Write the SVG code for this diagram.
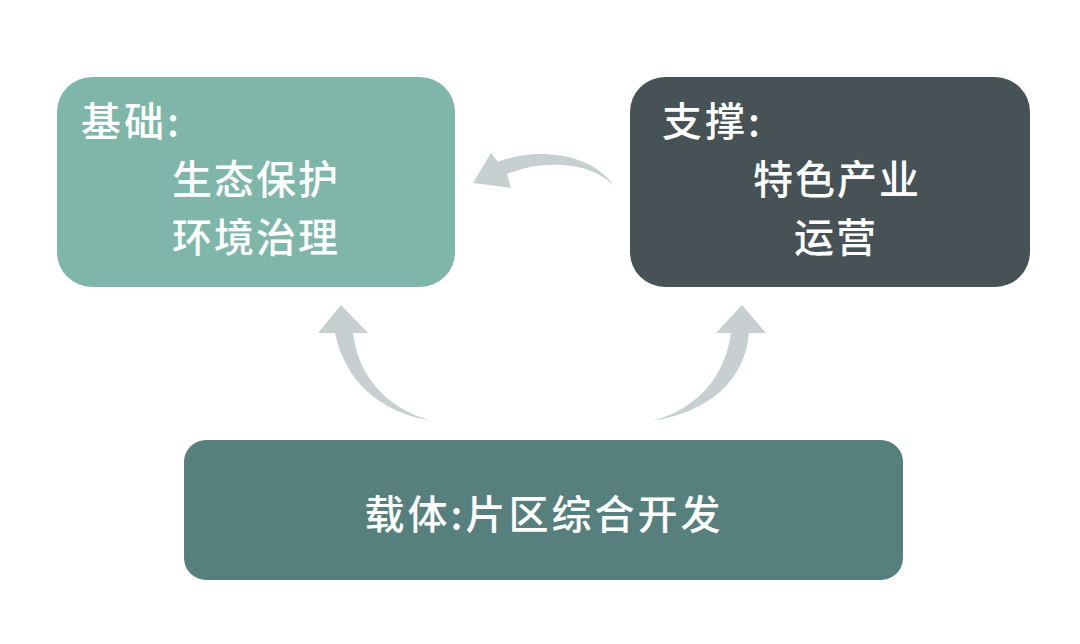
<svg xmlns="http://www.w3.org/2000/svg" width="1080" height="644" viewBox="0 0 1080 644">
<style>
.t{font-family:"Noto Sans CJK SC","Noto Sans",sans-serif;fill:#ffffff;font-size:40px;font-weight:500}
.arr{fill:#C8CFD1}
</style>
<rect width="1080" height="644" fill="#ffffff"/>
<g id="connectors">
<path class="arr" d="M473 183 L491 153 L498 162 C530 148 590 150 614 186 C590 160 540 160 507 174 L511 188 Z"/>
<path class="arr" d="M341 305 L368 333 L353 333 C358 375 385 408 432 421 C378 412 345 380 335 333 L318 333 Z"/>
<path class="arr" d="M742 305 L766 333 L749 333 C745 380 710 412 652 421 C700 408 725 375 731 333 L716 333 Z"/>
</g>
<g id="base">
<rect x="57" y="77" width="398" height="210" rx="35" fill="#80B6AA"/>
<text class="t" x="81" y="136" letter-spacing="3">基础:</text>
<text class="t" x="256" y="194" text-anchor="middle" letter-spacing="2">生态保护</text>
<text class="t" x="256" y="252" text-anchor="middle" letter-spacing="2">环境治理</text>
</g>
<g id="support">
<rect x="630" y="77" width="400" height="210" rx="35" fill="#475256"/>
<text class="t" x="662" y="136" letter-spacing="3">支撑:</text>
<text class="t" x="837" y="194" text-anchor="middle" letter-spacing="2">特色产业</text>
<text class="t" x="836" y="252" text-anchor="middle" letter-spacing="2">运营</text>
</g>
<g id="carrier">
<rect x="184" y="440" width="719" height="140" rx="22" fill="#567F7E"/>
<text class="t" x="544" y="529" text-anchor="middle" letter-spacing="3">载体:片区综合开发</text>
</g>
</svg>
